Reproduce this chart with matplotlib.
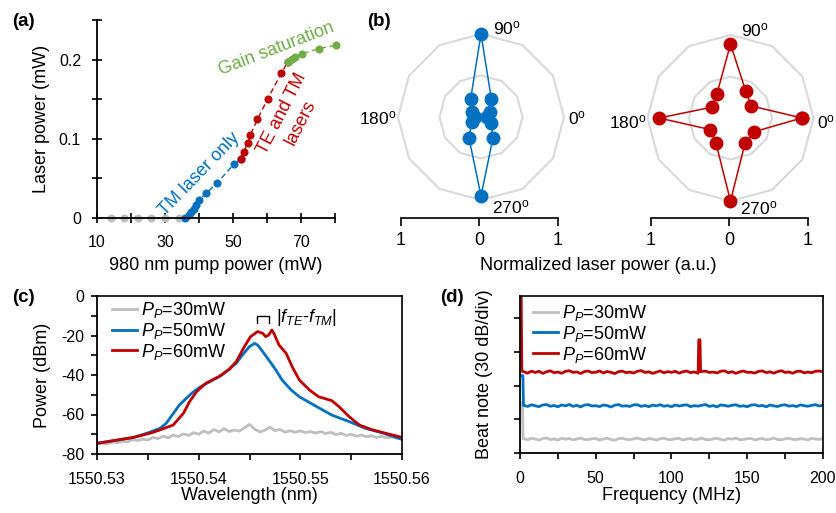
import numpy as np
import matplotlib
matplotlib.use("Agg")
import matplotlib.pyplot as plt

plt.rcParams['font.family'] = ['Liberation Sans', 'DejaVu Sans']
plt.rcParams['mathtext.fontset'] = 'custom'
plt.rcParams['mathtext.rm'] = 'Liberation Sans'
plt.rcParams['mathtext.it'] = 'Liberation Sans:italic'
plt.rcParams['axes.unicode_minus'] = False
plt.rcParams['font.size'] = 13
plt.rcParams['xtick.labelsize'] = 11.5
plt.rcParams['ytick.labelsize'] = 11.5

GRAY = '#BFBFBF'
BLUE = '#0070C0'
RED = '#C00000'
GREEN = '#70AD47'
RING = '#D9D9D9'

# ---- (a) laser power vs pump power
pump_off = [14, 18, 22, 26, 30, 34]
power_off = [0, 0, 0, 0, 0, 0]
pump_tm = [36.0, 37.0, 37.7, 38.4, 39.1, 40.0, 42.2, 45.4, 50.3, 52.4]
power_tm = [0.0, 0.0042, 0.0076, 0.0114, 0.0169, 0.0232, 0.0316, 0.0443, 0.0684, 0.0743]
pump_both = [52.4, 53.1, 54.3, 55.0, 57.2, 60.2, 64.2, 66.1]
power_both = [0.0743, 0.0831, 0.0949, 0.1042, 0.1245, 0.1506, 0.1827, 0.197]
pump_sat = [66.1, 67.4, 68.1, 70.4, 75.3, 80.2]
power_sat = [0.197, 0.2004, 0.2038, 0.2076, 0.2139, 0.2181]

# ---- (b) polarisation diagrams
angles_deg = [0, 30, 60, 90, 120, 150, 180, 210, 240, 270, 300, 330]
pol_50mw = [0.07, 0.12, 0.25, 1.0, 0.25, 0.12, 0.07, 0.13, 0.29, 0.95, 0.29, 0.14]
pol_60mw = [0.86, 0.29, 0.37, 0.89, 0.33, 0.26, 0.86, 0.28, 0.35, 1.0, 0.35, 0.33]
ring_levels = [0.5, 1.0]

# ---- (c) optical spectra
wl_gray = [1550.5300, 1550.5305, 1550.5310, 1550.5315, 1550.5320, 1550.5325, 1550.5330,
           1550.5335, 1550.5340, 1550.5345, 1550.5350, 1550.5355, 1550.5360, 1550.5365,
           1550.5370, 1550.5375, 1550.5380, 1550.5385, 1550.5390, 1550.5395, 1550.5400,
           1550.5405, 1550.5410, 1550.5415, 1550.5420, 1550.5425, 1550.5430, 1550.5435,
           1550.5440, 1550.5445, 1550.5450, 1550.5455, 1550.5460, 1550.5465, 1550.5470,
           1550.5475, 1550.5480, 1550.5485, 1550.5490, 1550.5495, 1550.5500, 1550.5505,
           1550.5510, 1550.5515, 1550.5520, 1550.5525, 1550.5530, 1550.5535, 1550.5540,
           1550.5545, 1550.5550, 1550.5555, 1550.5560, 1550.5565, 1550.5570, 1550.5575,
           1550.5580, 1550.5585, 1550.5590, 1550.5595, 1550.5600]
p_30mw = [-75.0, -74.6, -74.8, -74.0, -74.3, -73.6, -73.9, -72.8, -73.2, -72.5, -72.9,
          -71.6, -72.2, -71.0, -71.8, -70.4, -71.2, -69.8, -70.6, -69.2, -70.0, -68.4,
          -69.4, -67.6, -68.8, -67.2, -68.6, -67.9, -68.4, -66.8, -65.0, -67.4, -68.8,
          -68.0, -66.4, -68.2, -67.6, -68.9, -68.2, -69.0, -68.3, -69.2, -68.6, -69.4,
          -68.7, -69.6, -69.0, -70.2, -69.5, -70.6, -70.0, -71.0, -70.4, -71.3, -70.8,
          -71.6, -71.1, -71.8, -71.4, -72.0, -71.7]
wl_blue = [1550.5300, 1550.5336, 1550.5349, 1550.5362, 1550.5368, 1550.5381, 1550.5393,
           1550.5401, 1550.5414, 1550.5422, 1550.5430, 1550.5437, 1550.5443, 1550.5450,
           1550.5455, 1550.5458, 1550.5463, 1550.5469, 1550.5476, 1550.5482, 1550.5491,
           1550.5499, 1550.5515, 1550.5531, 1550.5548, 1550.5564, 1550.5580, 1550.5600]
p_50mw = [-74.6, -71.6, -69.5, -67.0, -64.5, -55.2, -49.3, -46.2, -42.5, -40.3, -37.1,
          -34.0, -29.9, -25.6, -24.0, -24.8, -28.2, -32.4, -37.5, -42.5, -47.6, -51.0,
          -55.7, -60.3, -63.6, -67.0, -69.2, -72.6]
wl_red = [1550.5300, 1550.5336, 1550.5352, 1550.5362, 1550.5375, 1550.5385, 1550.5391,
          1550.5398, 1550.5407, 1550.5420, 1550.5430, 1550.5437, 1550.5445, 1550.5451,
          1550.5458, 1550.5463, 1550.5466, 1550.5469, 1550.5472, 1550.5474, 1550.5479,
          1550.5486, 1550.5492, 1550.5499, 1550.5509, 1550.5518, 1550.5531, 1550.5538,
          1550.5548, 1550.5558, 1550.5571, 1550.5584, 1550.5600]
p_60mw = [-74.6, -71.6, -69.5, -67.8, -65.3, -59.4, -53.5, -48.4, -44.2, -40.8, -37.1,
          -33.2, -25.6, -20.6, -18.0, -18.9, -20.6, -19.7, -17.2, -18.9, -24.8, -29.0,
          -35.8, -42.5, -47.6, -51.0, -53.0, -56.0, -61.1, -65.3, -67.8, -69.5, -71.6]
# |f_TE - f_TM| bracket span (wavelength) and height (dBm)
bracket_wl = [1550.54575, 1550.5469]
bracket_db = [-13.5, -10.3]

# ---- (d) beat note spectra
freq_grid = np.arange(2.5, 200.1, 2.5)
beat_30mw = [12.9, 11.8, 13.2, 12.4, 11.6, 12.8, 13.4, 12.0, 12.6, 11.5,
             13.1, 12.3, 12.9, 11.7, 12.5, 13.3, 12.1, 11.9, 12.7, 13.0,
             11.6, 12.4, 13.2, 12.0, 11.4, 12.8, 13.1, 12.2, 11.8, 12.6,
             13.4, 12.3, 11.7, 12.9, 12.5, 11.5, 12.7, 13.2, 12.1, 11.9,
             12.8, 13.0, 11.6, 12.4, 12.9, 11.8, 12.3, 13.3, 12.0, 11.7,
             12.6, 13.1, 12.2, 11.5, 12.8, 12.4, 13.2, 11.9, 12.1, 12.7,
             13.0, 11.6, 12.5, 12.9, 11.8, 12.3, 13.4, 12.0, 11.7, 12.6,
             13.1, 12.2, 11.9, 12.8, 12.4, 11.6, 13.0, 12.5, 12.1, 12.9]
beat_50mw = [42.6, 41.5, 43.0, 42.1, 41.3, 42.8, 43.2, 41.7, 42.4, 41.2,
             42.9, 42.0, 43.3, 41.6, 42.5, 41.1, 42.7, 43.1, 41.9, 42.2,
             41.4, 42.8, 42.3, 41.0, 42.6, 43.2, 41.8, 42.1, 41.5, 42.9,
             43.0, 41.6, 42.4, 41.3, 42.7, 42.0, 43.1, 41.7, 42.3, 41.2,
             42.8, 41.9, 42.5, 43.0, 41.4, 42.2, 41.8, 42.6, 43.2, 41.5,
             42.3, 41.1, 42.9, 42.4, 41.7, 42.6, 43.0, 41.6, 42.1, 41.3,
             42.7, 43.1, 41.9, 42.4, 41.2, 42.8, 42.0, 41.5, 42.6, 43.0,
             41.8, 42.3, 41.4, 42.9, 42.2, 41.7, 42.5, 43.1, 41.9, 42.6]
beat_60mw = [72.5, 71.2, 73.0, 71.8, 72.9, 71.0, 72.4, 73.3, 71.6, 72.2,
             71.1, 72.8, 73.4, 71.9, 72.3, 70.9, 72.6, 73.1, 71.7, 72.0,
             73.2, 71.4, 72.7, 71.9, 70.8, 72.5, 73.0, 71.6, 72.2, 71.3,
             72.9, 73.5, 71.8, 72.4, 71.0, 72.1, 73.2, 71.5, 72.6, 71.9,
             72.8, 71.2, 72.4, 73.1, 71.7, 72.3, 71.1, 72.7, 73.0, 71.8,
             72.2, 71.4, 72.9, 73.3, 71.6, 72.5, 71.0, 72.4, 73.1, 71.9,
             72.0, 71.3, 72.8, 73.2, 71.7, 72.4, 71.2, 72.6, 73.4, 71.8,
             72.3, 71.1, 72.7, 73.0, 71.5, 72.2, 71.6, 72.9, 73.1, 72.4]
# low frequency edge and the TE/TM beat note
start_f30, start_30 = [0, 1.6, 2.0], [45, 45, 12.5]
start_f50, start_50 = [0, 1.9, 2.3], [69, 69, 42.5]
start_f60, start_60 = [0, 0.8, 1.2], [140, 140, 73]
spike_f60, spike_60 = [117.6, 118.0, 118.8, 119.2], [72.5, 101, 101, 72.5]

legend_labels = [r'$P_P$=30mW', r'$P_P$=50mW', r'$P_P$=60mW']

fig = plt.figure(figsize=(8.37, 5.13), dpi=100)
W, H = 837.0, 513.0


def rect(left, top, right, bottom):
    return [left / W, 1 - bottom / H, (right - left) / W, (bottom - top) / H]


def style_axes(ax, box, xlab, ylab, xlab_y, ylab_x, direction='out', tlen=4,
               xpad=9, ypad=5):
    left, top, right, bottom = box
    ax.spines['left'].set_linewidth(1.3)
    ax.spines['bottom'].set_linewidth(1.3)
    ax.tick_params(which='both', direction=direction, length=tlen, width=1.2,
                   top=False, right=False)
    ax.tick_params(axis='x', which='both', pad=xpad)
    ax.tick_params(axis='y', which='both', pad=ypad)
    ax.set_xlabel(xlab, va='center')
    ax.set_ylabel(ylab, va='center')
    ax.xaxis.set_label_coords(0.5, -(xlab_y - bottom) / (bottom - top))
    ax.yaxis.set_label_coords(-(left - ylab_x) / (right - left), 0.5)


# ================= (a)
box_a = (97, 20, 335, 218)
ax_a = fig.add_axes(rect(*box_a))
style_axes(ax_a, box_a, '980 nm pump power (mW)', 'Laser power (mW)', 265, 41.7,
           direction='inout', tlen=7, xpad=9, ypad=8)
ax_a.spines['top'].set_visible(False)
ax_a.spines['right'].set_visible(False)
mk = dict(marker='o', markersize=4.8, linestyle=(0, (4, 2.5)), linewidth=1, clip_on=False)
ax_a.plot(pump_off, power_off, color=GRAY, **mk)
ax_a.plot(pump_tm, power_tm, color=BLUE, **mk)
ax_a.plot(pump_both, power_both, color=RED, **mk)
ax_a.plot(pump_sat, power_sat, color=GREEN, **mk)
ax_a.set_xlim(10, 80)
ax_a.set_ylim(0, 0.25)
ax_a.set_xticks([10, 30, 50, 70])
ax_a.set_xticks(np.arange(10, 81, 10), minor=True)
ax_a.set_yticks([0, 0.1, 0.2])
ax_a.set_yticklabels(['0', '0.1', '0.2'])
ax_a.set_yticks(np.arange(0, 0.251, 0.05), minor=True)
ax_a.text(62.8, 0.2135, 'Gain saturation', color=GREEN, rotation=21,
          rotation_mode='anchor', ha='center', va='center')
ax_a.text(40.0, 0.0555, 'TM laser only', color=BLUE, rotation=46,
          rotation_mode='anchor', ha='center', va='center')
ax_a.text(67.2, 0.1266, 'TE and TM\nlasers', color=RED, rotation=63,
          rotation_mode='anchor', ha='center', va='center', linespacing=1.25)
fig.text(12 / W, 1 - 21 / H, '(a)', fontweight='bold', fontsize=13.5, va='center')

# ================= (b)
theta = np.deg2rad(angles_deg + [360])
R = 83.0
for cx, cy, vals, col, labs in [
        (481, 117, pol_50mw, BLUE, [(0.657, 1.036), (-0.12, 0.49), (1.078, 0.49), (0.68, -0.045)]),
        (730.5, 118, pol_60mw, RED, [(0.648, 1.03), (-0.117, 0.476), (1.075, 0.476), (0.672, -0.042)])]:
    pax = fig.add_axes(rect(cx - R, cy - R, cx + R, cy + R), projection='polar')
    pax.set_ylim(0, 1)
    pax.set_axis_off()
    for lev in ring_levels:
        pax.plot(theta, [lev] * len(theta), color=RING, lw=1.5, clip_on=False)
    pax.plot(theta, vals + vals[:1], color=col, lw=1.1, marker='o', markersize=9,
             clip_on=False)
    for (tx, ty), s in zip(labs, ['90', '180', '0', '270']):
        pax.text(tx, ty, s + r'$^{\rm o}$', transform=pax.transAxes,
                 ha='center', va='center', fontsize=12.5)

for x0, x1 in [(401, 558), (651, 808)]:
    sax = fig.add_axes(rect(x0, 217, x1, 218))
    for sp in ['top', 'left', 'right']:
        sax.spines[sp].set_visible(False)
    sax.spines['bottom'].set_linewidth(1.2)
    sax.set_xlim(-1, 1)
    sax.set_xticks([-1, 0, 1])
    sax.set_xticklabels(['1', '0', '1'], fontsize=13)
    sax.set_yticks([])
    sax.tick_params(axis='x', direction='out', length=6, width=1.2, pad=4)
    sax.patch.set_visible(False)
fig.text(598 / W, 1 - 265 / H, 'Normalized laser power (a.u.)', ha='center', va='center')
fig.text(367 / W, 1 - 22 / H, '(b)', fontweight='bold', fontsize=13.5, va='center')

# ================= (c)
box_c = (97, 296, 402, 454)
ax_c = fig.add_axes(rect(*box_c))
style_axes(ax_c, box_c, 'Wavelength (nm)', 'Power (dBm)', 496, 43)
ax_c.plot(wl_gray, p_30mw, color=GRAY, lw=2, label=legend_labels[0])
ax_c.plot(wl_blue, p_50mw, color=BLUE, lw=2, label=legend_labels[1])
ax_c.plot(wl_red, p_60mw, color=RED, lw=2, label=legend_labels[2])
ax_c.set_xlim(1550.53, 1550.56)
ax_c.set_ylim(-80, 0)
ax_c.set_xticks([1550.53, 1550.54, 1550.55, 1550.56])
ax_c.set_xticklabels(['1550.53', '1550.54', '1550.55', '1550.56'])
ax_c.set_xticks(np.arange(1550.53, 1550.5601, 0.005), minor=True)
ax_c.set_yticks(np.arange(-80, 1, 20))
ax_c.set_yticks(np.arange(-80, 1, 10), minor=True)
ax_c.legend(loc='upper left', bbox_to_anchor=(0.049, 0.975), frameon=False,
            handlelength=1.4, handletextpad=0.2, labelspacing=0.05, borderaxespad=0,
            borderpad=0)
ax_c.plot([bracket_wl[0], bracket_wl[0], bracket_wl[1], bracket_wl[1]],
          [bracket_db[0], bracket_db[1], bracket_db[1], bracket_db[0]], color='black', lw=1)
ax_c.text(bracket_wl[1] + 0.0007, -10.8, r'|$f_{TE}$-$f_{TM}$|', ha='left', va='center')
fig.text(12 / W, 1 - 298 / H, '(c)', fontweight='bold', fontsize=13.5, va='center')

# ================= (d)
box_d = (520, 296, 823, 453)
ax_d = fig.add_axes(rect(*box_d))
style_axes(ax_d, box_d, 'Frequency (MHz)', 'Beat note (30 dB/div)', 496, 485)
f30 = np.concatenate([start_f30, freq_grid])
b30 = np.concatenate([start_30, beat_30mw])
f50 = np.concatenate([start_f50, freq_grid])
b50 = np.concatenate([start_50, beat_50mw])
f60 = np.concatenate([start_f60, freq_grid, spike_f60])
b60 = np.concatenate([start_60, beat_60mw, spike_60])
order = np.argsort(f60, kind='stable')
ax_d.plot(f30, b30, color=GRAY, lw=2, label=legend_labels[0])
ax_d.plot(f50, b50, color=BLUE, lw=2, label=legend_labels[1])
ax_d.plot(f60[order], b60[order], color=RED, lw=2, label=legend_labels[2])
ax_d.set_xlim(0, 200)
ax_d.set_ylim(0, 140)
ax_d.set_xticks([0, 50, 100, 150, 200])
ax_d.set_xticks(np.arange(0, 201, 25), minor=True)
ax_d.set_yticks([0, 30, 60, 90, 120])
ax_d.set_yticklabels([])
ax_d.legend(loc='upper left', bbox_to_anchor=(0.043, 0.956), frameon=False,
            handlelength=1.4, handletextpad=0.2, labelspacing=0.05, borderaxespad=0,
            borderpad=0)
fig.text(440 / W, 1 - 298 / H, '(d)', fontweight='bold', fontsize=13.5, va='center')

# boxed frame for the spectra panels
for ax in (ax_c, ax_d):
    for sp in ('top', 'right'):
        ax.spines[sp].set_visible(True)
        ax.spines[sp].set_linewidth(1.2)
        ax.spines[sp].set_color('black')
        ax.spines[sp].set_zorder(5)

fig.savefig('out.png', dpi=100)
